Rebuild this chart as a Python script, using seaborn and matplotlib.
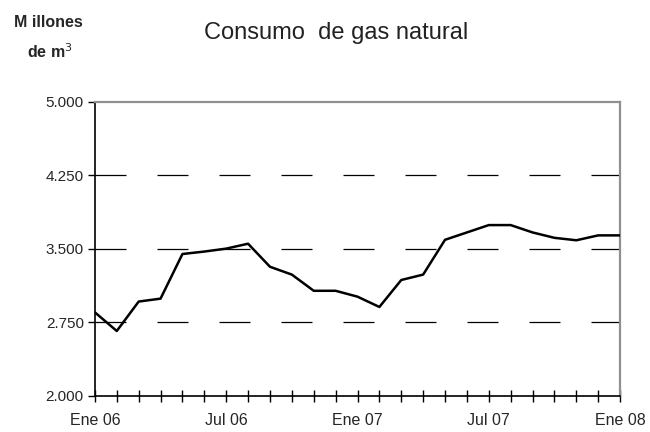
import numpy as np
import pandas as pd
import matplotlib
matplotlib.use("Agg")
import matplotlib.pyplot as plt
import seaborn as sns

# monthly consumption, Ene 06 .. Ene 08 (millones de m3)
months = list(range(25))
consumo = [2850, 2660, 2960, 2990, 3445, 3470, 3500, 3550, 3315, 3235, 3070, 3070,
           3010, 2905, 3180, 3235, 3590, 3665, 3740, 3740, 3665, 3610, 3585, 3635, 3635]
xtick_pos = [0, 6, 12, 18, 24]
xtick_labels = ["Ene 06", "Jul 06", "Ene 07", "Jul 07", "Ene 08"]
ytick_vals = [2000, 2750, 3500, 4250, 5000]
ytick_labels = ["2.000", "2.750", "3.500", "4.250", "5.000"]
grid_vals = [2750, 3500, 4250]

df = pd.DataFrame({"mes": months, "consumo": consumo})

sns.set_theme(style="white")
plt.rcParams["font.family"] = ["Liberation Sans", "DejaVu Sans"]

fig = plt.figure(figsize=(6.5, 4.32), dpi=100)
ax = fig.add_axes([0.146, 0.084, 0.808, 0.681])

# dashed reference lines
for g in grid_vals:
    ax.axhline(g, color="black", linewidth=0.9, dashes=(24.8, 24.8), zorder=1)

sns.lineplot(data=df, x="mes", y="consumo", color="black", linewidth=1.8, ax=ax, zorder=3)

ax.set_xlim(0, 24)
ax.set_ylim(2000, 5000)
ax.set_xticks(xtick_pos)
ax.set_xticklabels(xtick_labels, fontsize=11.5)
ax.set_xticks(months, minor=True)
ax.set_yticks(ytick_vals)
ax.set_yticklabels(ytick_labels, fontsize=11)
ax.set_xlabel("")
ax.set_ylabel("")

ax.tick_params(axis="x", which="both", direction="inout", length=9, width=1,
               color="black", bottom=True, pad=8)
ax.tick_params(axis="y", which="major", direction="out", length=5, width=1,
               color="black", left=True, pad=3)

for side in ["left", "bottom"]:
    ax.spines[side].set_color("black")
    ax.spines[side].set_linewidth(1.2)
for side in ["top", "right"]:
    ax.spines[side].set_color("#909090")
    ax.spines[side].set_linewidth(1.6)

fig.text(0.517, 0.924, "Consumo  de gas natural", ha="center", va="center",
         fontsize=17, color="#222222")
fig.text(0.075, 0.947, "M illones", ha="center", va="center", fontsize=11.5,
         fontweight="bold")
fig.text(0.077, 0.880, "de m$^3$", ha="center", va="center", fontsize=11.5,
         fontweight="bold")

fig.savefig("out.png", dpi=100, facecolor="white")
